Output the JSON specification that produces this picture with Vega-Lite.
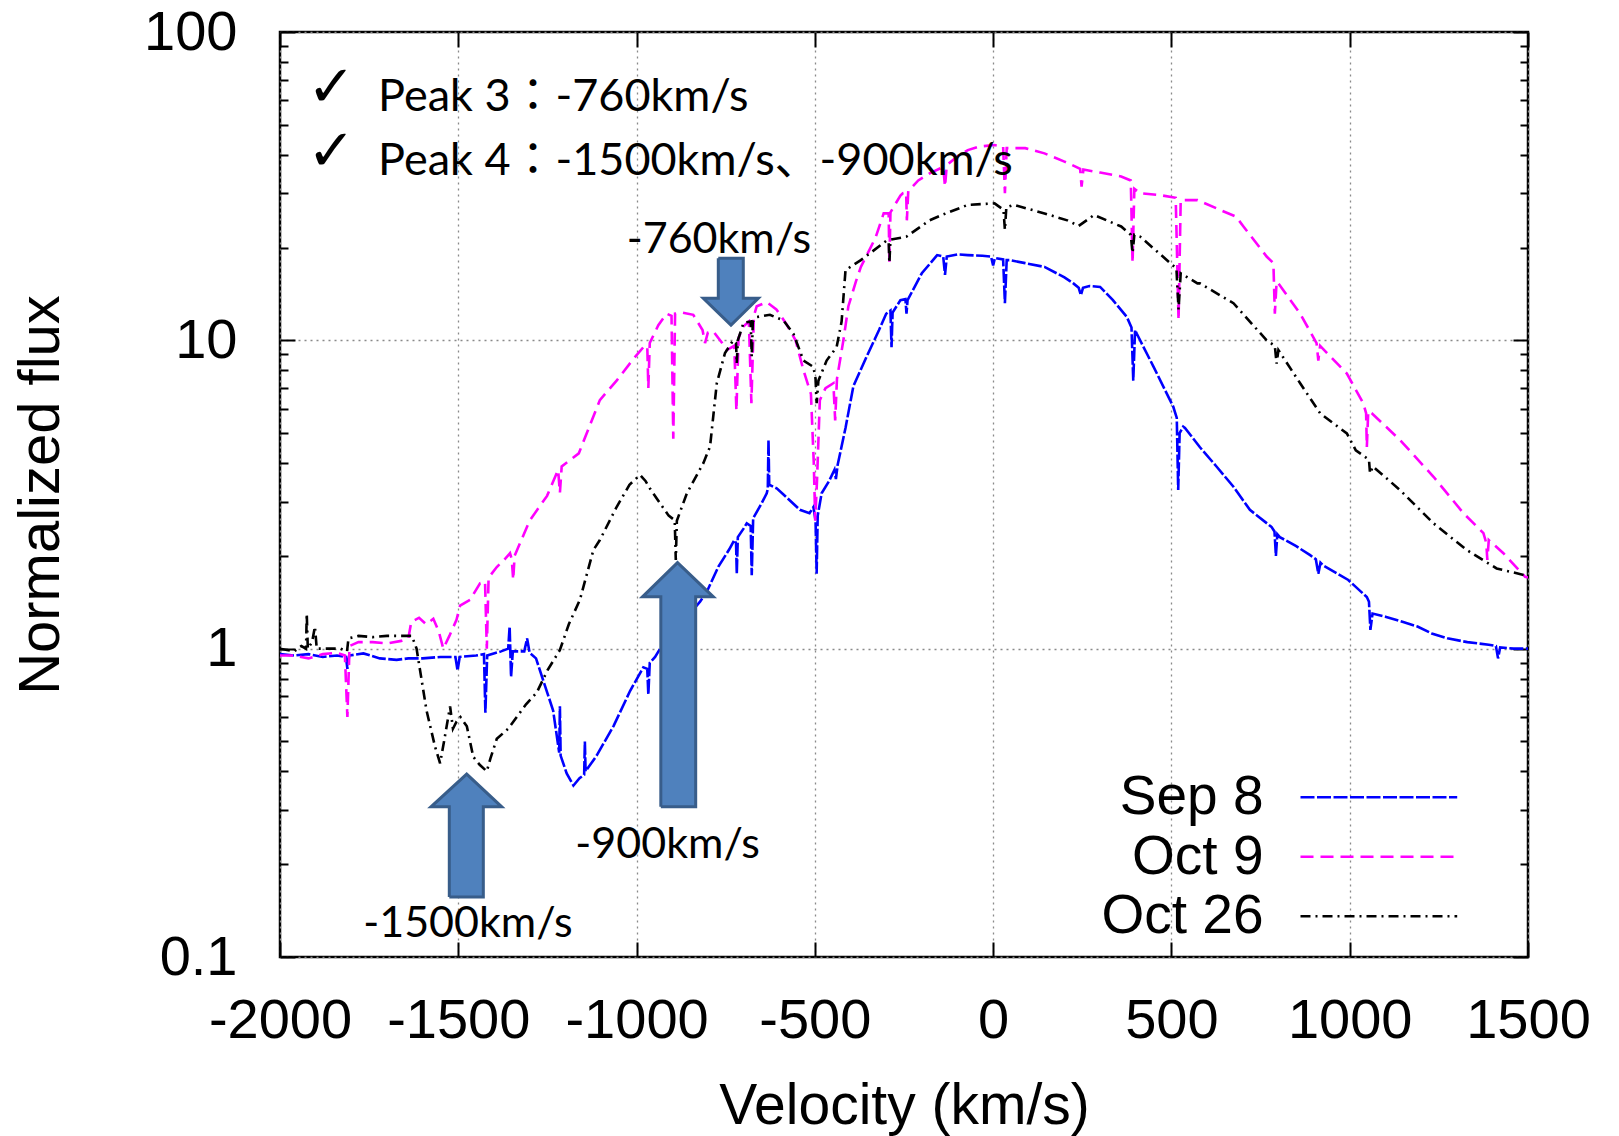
{
  "$schema": "https://vega.github.io/schema/vega-lite/v6.json",
  "width": 1248,
  "height": 925,
  "autosize": {"type": "none"},
  "padding": {"left": 280, "top": 32, "right": 91, "bottom": 179},
  "background": "white",
  "config": {"view": {"stroke": "black", "strokeWidth": 2.5}},
  "datasets": {
    "spectra": [
      {"s":"Sep 8","v":-2000,"f":0.96},{"s":"Sep 8","v":-1960,"f":0.95},{"s":"Sep 8","v":-1920,"f":0.96},{"s":"Sep 8","v":-1880,"f":0.94},{"s":"Sep 8","v":-1840,"f":0.95},{"s":"Sep 8","v":-1815,"f":0.94},{"s":"Sep 8","v":-1811,"f":0.86},{"s":"Sep 8","v":-1806,"f":0.95},{"s":"Sep 8","v":-1766,"f":0.965},{"s":"Sep 8","v":-1720,"f":0.93},{"s":"Sep 8","v":-1673,"f":0.92},{"s":"Sep 8","v":-1640,"f":0.93},{"s":"Sep 8","v":-1600,"f":0.93},{"s":"Sep 8","v":-1550,"f":0.94},{"s":"Sep 8","v":-1508,"f":0.94},{"s":"Sep 8","v":-1502,"f":0.85},{"s":"Sep 8","v":-1496,"f":0.94},{"s":"Sep 8","v":-1450,"f":0.95},{"s":"Sep 8","v":-1428,"f":0.96},{"s":"Sep 8","v":-1424,"f":0.62},{"s":"Sep 8","v":-1419,"f":0.95},{"s":"Sep 8","v":-1380,"f":0.98},{"s":"Sep 8","v":-1360,"f":1.0},{"s":"Sep 8","v":-1356,"f":1.18},{"s":"Sep 8","v":-1352,"f":0.81},{"s":"Sep 8","v":-1347,"f":0.98},{"s":"Sep 8","v":-1315,"f":0.98},{"s":"Sep 8","v":-1307,"f":1.08},{"s":"Sep 8","v":-1300,"f":0.97},{"s":"Sep 8","v":-1282,"f":0.93},{"s":"Sep 8","v":-1262,"f":0.79},{"s":"Sep 8","v":-1234,"f":0.63},{"s":"Sep 8","v":-1217,"f":0.46},{"s":"Sep 8","v":-1215,"f":0.65},{"s":"Sep 8","v":-1213,"f":0.45},{"s":"Sep 8","v":-1196,"f":0.394},{"s":"Sep 8","v":-1177,"f":0.36},{"s":"Sep 8","v":-1160,"f":0.38},{"s":"Sep 8","v":-1147,"f":0.39},{"s":"Sep 8","v":-1145,"f":0.5},{"s":"Sep 8","v":-1143,"f":0.4},{"s":"Sep 8","v":-1112,"f":0.45},{"s":"Sep 8","v":-1065,"f":0.56},{"s":"Sep 8","v":-1018,"f":0.73},{"s":"Sep 8","v":-981,"f":0.87},{"s":"Sep 8","v":-970,"f":0.86},{"s":"Sep 8","v":-967,"f":0.71},{"s":"Sep 8","v":-963,"f":0.9},{"s":"Sep 8","v":-948,"f":0.94},{"s":"Sep 8","v":-934,"f":1.0},{"s":"Sep 8","v":-900,"f":1.11},{"s":"Sep 8","v":-860,"f":1.26},{"s":"Sep 8","v":-822,"f":1.42},{"s":"Sep 8","v":-803,"f":1.53},{"s":"Sep 8","v":-770,"f":1.85},{"s":"Sep 8","v":-740,"f":2.1},{"s":"Sep 8","v":-726,"f":2.25},{"s":"Sep 8","v":-721,"f":2.2},{"s":"Sep 8","v":-719,"f":1.75},{"s":"Sep 8","v":-716,"f":2.3},{"s":"Sep 8","v":-700,"f":2.45},{"s":"Sep 8","v":-691,"f":2.55},{"s":"Sep 8","v":-680,"f":2.5},{"s":"Sep 8","v":-677,"f":1.73},{"s":"Sep 8","v":-673,"f":2.65},{"s":"Sep 8","v":-650,"f":2.95},{"s":"Sep 8","v":-635,"f":3.19},{"s":"Sep 8","v":-632,"f":3.3},{"s":"Sep 8","v":-630,"f":4.75},{"s":"Sep 8","v":-628,"f":3.4},{"s":"Sep 8","v":-607,"f":3.31},{"s":"Sep 8","v":-580,"f":3.1},{"s":"Sep 8","v":-542,"f":2.82},{"s":"Sep 8","v":-515,"f":2.75},{"s":"Sep 8","v":-504,"f":2.88},{"s":"Sep 8","v":-498,"f":2.6},{"s":"Sep 8","v":-495,"f":1.75},{"s":"Sep 8","v":-492,"f":2.7},{"s":"Sep 8","v":-481,"f":3.19},{"s":"Sep 8","v":-460,"f":3.5},{"s":"Sep 8","v":-445,"f":3.8},{"s":"Sep 8","v":-441,"f":3.55},{"s":"Sep 8","v":-436,"f":3.95},{"s":"Sep 8","v":-414,"f":5.2},{"s":"Sep 8","v":-392,"f":7.1},{"s":"Sep 8","v":-355,"f":8.85},{"s":"Sep 8","v":-320,"f":10.8},{"s":"Sep 8","v":-300,"f":12.2},{"s":"Sep 8","v":-288,"f":12.5},{"s":"Sep 8","v":-285,"f":9.5},{"s":"Sep 8","v":-282,"f":12.3},{"s":"Sep 8","v":-260,"f":13.5},{"s":"Sep 8","v":-246,"f":13.6},{"s":"Sep 8","v":-243,"f":12.2},{"s":"Sep 8","v":-240,"f":13.5},{"s":"Sep 8","v":-200,"f":16.5},{"s":"Sep 8","v":-157,"f":18.9},{"s":"Sep 8","v":-140,"f":18.7},{"s":"Sep 8","v":-135,"f":16.3},{"s":"Sep 8","v":-130,"f":18.7},{"s":"Sep 8","v":-100,"f":19.0},{"s":"Sep 8","v":-71,"f":18.9},{"s":"Sep 8","v":-30,"f":18.8},{"s":"Sep 8","v":-6,"f":18.7},{"s":"Sep 8","v":0,"f":17.5},{"s":"Sep 8","v":5,"f":18.5},{"s":"Sep 8","v":28,"f":18.3},{"s":"Sep 8","v":33,"f":13.2},{"s":"Sep 8","v":38,"f":18.2},{"s":"Sep 8","v":47,"f":18.2},{"s":"Sep 8","v":90,"f":17.8},{"s":"Sep 8","v":144,"f":17.3},{"s":"Sep 8","v":200,"f":16.0},{"s":"Sep 8","v":225,"f":15.3},{"s":"Sep 8","v":240,"f":14.8},{"s":"Sep 8","v":246,"f":14.0},{"s":"Sep 8","v":252,"f":14.8},{"s":"Sep 8","v":270,"f":15.0},{"s":"Sep 8","v":300,"f":14.9},{"s":"Sep 8","v":336,"f":13.5},{"s":"Sep 8","v":375,"f":11.9},{"s":"Sep 8","v":388,"f":11.0},{"s":"Sep 8","v":393,"f":7.4},{"s":"Sep 8","v":398,"f":10.8},{"s":"Sep 8","v":403,"f":10.5},{"s":"Sep 8","v":450,"f":8.2},{"s":"Sep 8","v":505,"f":6.1},{"s":"Sep 8","v":515,"f":5.6},{"s":"Sep 8","v":519,"f":3.27},{"s":"Sep 8","v":523,"f":5.0},{"s":"Sep 8","v":533,"f":5.25},{"s":"Sep 8","v":538,"f":5.2},{"s":"Sep 8","v":580,"f":4.5},{"s":"Sep 8","v":627,"f":3.89},{"s":"Sep 8","v":674,"f":3.35},{"s":"Sep 8","v":720,"f":2.82},{"s":"Sep 8","v":781,"f":2.48},{"s":"Sep 8","v":789,"f":2.4},{"s":"Sep 8","v":793,"f":2.0},{"s":"Sep 8","v":797,"f":2.35},{"s":"Sep 8","v":804,"f":2.3},{"s":"Sep 8","v":850,"f":2.15},{"s":"Sep 8","v":889,"f":2.01},{"s":"Sep 8","v":905,"f":1.95},{"s":"Sep 8","v":912,"f":1.75},{"s":"Sep 8","v":918,"f":1.9},{"s":"Sep 8","v":926,"f":1.86},{"s":"Sep 8","v":996,"f":1.67},{"s":"Sep 8","v":1048,"f":1.47},{"s":"Sep 8","v":1054,"f":1.42},{"s":"Sep 8","v":1058,"f":1.15},{"s":"Sep 8","v":1064,"f":1.3},{"s":"Sep 8","v":1100,"f":1.27},{"s":"Sep 8","v":1150,"f":1.22},{"s":"Sep 8","v":1190,"f":1.18},{"s":"Sep 8","v":1230,"f":1.12},{"s":"Sep 8","v":1274,"f":1.08},{"s":"Sep 8","v":1330,"f":1.05},{"s":"Sep 8","v":1390,"f":1.03},{"s":"Sep 8","v":1410,"f":1.02},{"s":"Sep 8","v":1416,"f":0.93},{"s":"Sep 8","v":1422,"f":1.01},{"s":"Sep 8","v":1460,"f":1.0},{"s":"Sep 8","v":1500,"f":1.0},
      {"s":"Oct 9","v":-2000,"f":0.95},{"s":"Oct 9","v":-1960,"f":0.95},{"s":"Oct 9","v":-1920,"f":0.93},{"s":"Oct 9","v":-1880,"f":0.96},{"s":"Oct 9","v":-1840,"f":0.97},{"s":"Oct 9","v":-1818,"f":0.95},{"s":"Oct 9","v":-1811,"f":0.6},{"s":"Oct 9","v":-1805,"f":1.02},{"s":"Oct 9","v":-1780,"f":1.05},{"s":"Oct 9","v":-1740,"f":1.05},{"s":"Oct 9","v":-1700,"f":1.04},{"s":"Oct 9","v":-1660,"f":1.06},{"s":"Oct 9","v":-1640,"f":1.08},{"s":"Oct 9","v":-1632,"f":1.22},{"s":"Oct 9","v":-1610,"f":1.26},{"s":"Oct 9","v":-1590,"f":1.2},{"s":"Oct 9","v":-1570,"f":1.25},{"s":"Oct 9","v":-1555,"f":1.14},{"s":"Oct 9","v":-1542,"f":1.0},{"s":"Oct 9","v":-1525,"f":1.1},{"s":"Oct 9","v":-1505,"f":1.24},{"s":"Oct 9","v":-1495,"f":1.38},{"s":"Oct 9","v":-1467,"f":1.44},{"s":"Oct 9","v":-1439,"f":1.63},{"s":"Oct 9","v":-1425,"f":1.65},{"s":"Oct 9","v":-1420,"f":1.0},{"s":"Oct 9","v":-1415,"f":1.7},{"s":"Oct 9","v":-1392,"f":1.84},{"s":"Oct 9","v":-1370,"f":1.95},{"s":"Oct 9","v":-1355,"f":2.04},{"s":"Oct 9","v":-1350,"f":1.95},{"s":"Oct 9","v":-1346,"f":1.67},{"s":"Oct 9","v":-1342,"f":2.0},{"s":"Oct 9","v":-1300,"f":2.6},{"s":"Oct 9","v":-1251,"f":3.13},{"s":"Oct 9","v":-1220,"f":3.8},{"s":"Oct 9","v":-1215,"f":3.2},{"s":"Oct 9","v":-1210,"f":3.9},{"s":"Oct 9","v":-1162,"f":4.3},{"s":"Oct 9","v":-1103,"f":6.4},{"s":"Oct 9","v":-1056,"f":7.4},{"s":"Oct 9","v":-1009,"f":8.7},{"s":"Oct 9","v":-981,"f":9.5},{"s":"Oct 9","v":-970,"f":9.6},{"s":"Oct 9","v":-967,"f":7.0},{"s":"Oct 9","v":-963,"f":9.8},{"s":"Oct 9","v":-939,"f":11.2},{"s":"Oct 9","v":-916,"f":12.2},{"s":"Oct 9","v":-902,"f":12.0},{"s":"Oct 9","v":-897,"f":4.8},{"s":"Oct 9","v":-892,"f":12.2},{"s":"Oct 9","v":-873,"f":12.3},{"s":"Oct 9","v":-841,"f":12.1},{"s":"Oct 9","v":-815,"f":10.8},{"s":"Oct 9","v":-808,"f":9.8},{"s":"Oct 9","v":-800,"f":10.6},{"s":"Oct 9","v":-785,"f":10.7},{"s":"Oct 9","v":-760,"f":9.8},{"s":"Oct 9","v":-747,"f":9.3},{"s":"Oct 9","v":-726,"f":9.6},{"s":"Oct 9","v":-720,"f":5.9},{"s":"Oct 9","v":-714,"f":10.2},{"s":"Oct 9","v":-700,"f":11.1},{"s":"Oct 9","v":-685,"f":11.5},{"s":"Oct 9","v":-678,"f":6.25},{"s":"Oct 9","v":-671,"f":12.0},{"s":"Oct 9","v":-663,"f":12.9},{"s":"Oct 9","v":-635,"f":13.3},{"s":"Oct 9","v":-608,"f":12.6},{"s":"Oct 9","v":-580,"f":11.3},{"s":"Oct 9","v":-554,"f":10.0},{"s":"Oct 9","v":-532,"f":8.0},{"s":"Oct 9","v":-511,"f":6.7},{"s":"Oct 9","v":-503,"f":4.0},{"s":"Oct 9","v":-499,"f":2.6},{"s":"Oct 9","v":-494,"f":3.5},{"s":"Oct 9","v":-486,"f":6.4},{"s":"Oct 9","v":-470,"f":7.0},{"s":"Oct 9","v":-448,"f":7.26},{"s":"Oct 9","v":-443,"f":5.5},{"s":"Oct 9","v":-438,"f":7.5},{"s":"Oct 9","v":-420,"f":10.0},{"s":"Oct 9","v":-406,"f":12.9},{"s":"Oct 9","v":-385,"f":15.5},{"s":"Oct 9","v":-371,"f":17.3},{"s":"Oct 9","v":-330,"f":21.5},{"s":"Oct 9","v":-307,"f":25.8},{"s":"Oct 9","v":-293,"f":25.8},{"s":"Oct 9","v":-291,"f":17.8},{"s":"Oct 9","v":-288,"f":26.0},{"s":"Oct 9","v":-260,"f":29.5},{"s":"Oct 9","v":-253,"f":30.0},{"s":"Oct 9","v":-244,"f":30.2},{"s":"Oct 9","v":-242,"f":24.5},{"s":"Oct 9","v":-238,"f":30.5},{"s":"Oct 9","v":-210,"f":33.0},{"s":"Oct 9","v":-178,"f":34.8},{"s":"Oct 9","v":-140,"f":36.5},{"s":"Oct 9","v":-135,"f":31.5},{"s":"Oct 9","v":-130,"f":37.0},{"s":"Oct 9","v":-100,"f":39.5},{"s":"Oct 9","v":-71,"f":41.4},{"s":"Oct 9","v":-40,"f":42.5},{"s":"Oct 9","v":4,"f":43.0},{"s":"Oct 9","v":28,"f":42.5},{"s":"Oct 9","v":33,"f":30.0},{"s":"Oct 9","v":38,"f":42.0},{"s":"Oct 9","v":90,"f":42.0},{"s":"Oct 9","v":144,"f":40.4},{"s":"Oct 9","v":200,"f":38.0},{"s":"Oct 9","v":244,"f":36.0},{"s":"Oct 9","v":248,"f":31.5},{"s":"Oct 9","v":253,"f":35.8},{"s":"Oct 9","v":300,"f":35.0},{"s":"Oct 9","v":359,"f":34.0},{"s":"Oct 9","v":386,"f":33.0},{"s":"Oct 9","v":391,"f":17.8},{"s":"Oct 9","v":396,"f":31.0},{"s":"Oct 9","v":412,"f":30.0},{"s":"Oct 9","v":466,"f":29.6},{"s":"Oct 9","v":512,"f":29.0},{"s":"Oct 9","v":520,"f":11.6},{"s":"Oct 9","v":526,"f":28.5},{"s":"Oct 9","v":573,"f":28.5},{"s":"Oct 9","v":636,"f":26.5},{"s":"Oct 9","v":681,"f":25.2},{"s":"Oct 9","v":702,"f":23.4},{"s":"Oct 9","v":767,"f":18.7},{"s":"Oct 9","v":786,"f":17.8},{"s":"Oct 9","v":790,"f":12.2},{"s":"Oct 9","v":795,"f":15.5},{"s":"Oct 9","v":800,"f":15.3},{"s":"Oct 9","v":861,"f":12.2},{"s":"Oct 9","v":907,"f":9.8},{"s":"Oct 9","v":912,"f":8.6},{"s":"Oct 9","v":917,"f":9.6},{"s":"Oct 9","v":992,"f":7.8},{"s":"Oct 9","v":1038,"f":6.25},{"s":"Oct 9","v":1046,"f":5.8},{"s":"Oct 9","v":1048,"f":4.5},{"s":"Oct 9","v":1052,"f":5.9},{"s":"Oct 9","v":1062,"f":5.8},{"s":"Oct 9","v":1141,"f":4.75},{"s":"Oct 9","v":1235,"f":3.61},{"s":"Oct 9","v":1319,"f":2.75},{"s":"Oct 9","v":1375,"f":2.37},{"s":"Oct 9","v":1383,"f":2.2},{"s":"Oct 9","v":1386,"f":1.94},{"s":"Oct 9","v":1390,"f":2.25},{"s":"Oct 9","v":1431,"f":2.04},{"s":"Oct 9","v":1492,"f":1.71},{"s":"Oct 9","v":1500,"f":1.7},
      {"s":"Oct 26","v":-2000,"f":1.0},{"s":"Oct 26","v":-1960,"f":0.98},{"s":"Oct 26","v":-1940,"f":1.02},{"s":"Oct 26","v":-1927,"f":1.0},{"s":"Oct 26","v":-1925,"f":1.3},{"s":"Oct 26","v":-1922,"f":1.0},{"s":"Oct 26","v":-1910,"f":1.05},{"s":"Oct 26","v":-1902,"f":1.18},{"s":"Oct 26","v":-1897,"f":1.0},{"s":"Oct 26","v":-1860,"f":1.0},{"s":"Oct 26","v":-1830,"f":1.0},{"s":"Oct 26","v":-1812,"f":0.98},{"s":"Oct 26","v":-1808,"f":1.08},{"s":"Oct 26","v":-1780,"f":1.1},{"s":"Oct 26","v":-1740,"f":1.09},{"s":"Oct 26","v":-1700,"f":1.1},{"s":"Oct 26","v":-1660,"f":1.1},{"s":"Oct 26","v":-1630,"f":1.1},{"s":"Oct 26","v":-1617,"f":1.0},{"s":"Oct 26","v":-1589,"f":0.63},{"s":"Oct 26","v":-1565,"f":0.48},{"s":"Oct 26","v":-1551,"f":0.425},{"s":"Oct 26","v":-1540,"f":0.5},{"s":"Oct 26","v":-1523,"f":0.65},{"s":"Oct 26","v":-1515,"f":0.55},{"s":"Oct 26","v":-1505,"f":0.58},{"s":"Oct 26","v":-1494,"f":0.6},{"s":"Oct 26","v":-1476,"f":0.56},{"s":"Oct 26","v":-1458,"f":0.446},{"s":"Oct 26","v":-1440,"f":0.42},{"s":"Oct 26","v":-1420,"f":0.4},{"s":"Oct 26","v":-1410,"f":0.44},{"s":"Oct 26","v":-1392,"f":0.51},{"s":"Oct 26","v":-1360,"f":0.55},{"s":"Oct 26","v":-1336,"f":0.6},{"s":"Oct 26","v":-1310,"f":0.66},{"s":"Oct 26","v":-1280,"f":0.72},{"s":"Oct 26","v":-1250,"f":0.85},{"s":"Oct 26","v":-1215,"f":0.99},{"s":"Oct 26","v":-1190,"f":1.2},{"s":"Oct 26","v":-1159,"f":1.44},{"s":"Oct 26","v":-1121,"f":2.09},{"s":"Oct 26","v":-1103,"f":2.25},{"s":"Oct 26","v":-1056,"f":2.88},{"s":"Oct 26","v":-1020,"f":3.4},{"s":"Oct 26","v":-990,"f":3.66},{"s":"Oct 26","v":-975,"f":3.5},{"s":"Oct 26","v":-962,"f":3.3},{"s":"Oct 26","v":-934,"f":2.96},{"s":"Oct 26","v":-910,"f":2.7},{"s":"Oct 26","v":-893,"f":2.61},{"s":"Oct 26","v":-890,"f":1.94},{"s":"Oct 26","v":-887,"f":2.6},{"s":"Oct 26","v":-859,"f":3.19},{"s":"Oct 26","v":-813,"f":3.99},{"s":"Oct 26","v":-794,"f":4.52},{"s":"Oct 26","v":-775,"f":7.26},{"s":"Oct 26","v":-752,"f":9.1},{"s":"Oct 26","v":-729,"f":10.0},{"s":"Oct 26","v":-721,"f":9.8},{"s":"Oct 26","v":-719,"f":8.4},{"s":"Oct 26","v":-716,"f":10.0},{"s":"Oct 26","v":-700,"f":11.4},{"s":"Oct 26","v":-680,"f":11.5},{"s":"Oct 26","v":-677,"f":8.85},{"s":"Oct 26","v":-674,"f":11.5},{"s":"Oct 26","v":-663,"f":11.9},{"s":"Oct 26","v":-626,"f":12.1},{"s":"Oct 26","v":-588,"f":11.6},{"s":"Oct 26","v":-560,"f":10.5},{"s":"Oct 26","v":-532,"f":8.6},{"s":"Oct 26","v":-504,"f":8.2},{"s":"Oct 26","v":-498,"f":7.5},{"s":"Oct 26","v":-495,"f":6.25},{"s":"Oct 26","v":-490,"f":7.4},{"s":"Oct 26","v":-467,"f":8.6},{"s":"Oct 26","v":-439,"f":9.5},{"s":"Oct 26","v":-425,"f":11.5},{"s":"Oct 26","v":-414,"f":16.9},{"s":"Oct 26","v":-371,"f":18.2},{"s":"Oct 26","v":-300,"f":21.0},{"s":"Oct 26","v":-293,"f":21.0},{"s":"Oct 26","v":-291,"f":17.8},{"s":"Oct 26","v":-288,"f":21.2},{"s":"Oct 26","v":-243,"f":21.7},{"s":"Oct 26","v":-178,"f":24.5},{"s":"Oct 26","v":-140,"f":25.6},{"s":"Oct 26","v":-71,"f":27.5},{"s":"Oct 26","v":4,"f":27.8},{"s":"Oct 26","v":29,"f":26.5},{"s":"Oct 26","v":33,"f":22.8},{"s":"Oct 26","v":37,"f":27.0},{"s":"Oct 26","v":58,"f":27.5},{"s":"Oct 26","v":144,"f":25.8},{"s":"Oct 26","v":208,"f":24.5},{"s":"Oct 26","v":240,"f":23.5},{"s":"Oct 26","v":283,"f":25.5},{"s":"Oct 26","v":359,"f":23.4},{"s":"Oct 26","v":386,"f":22.0},{"s":"Oct 26","v":391,"f":19.2},{"s":"Oct 26","v":396,"f":22.0},{"s":"Oct 26","v":412,"f":21.7},{"s":"Oct 26","v":514,"f":17.1},{"s":"Oct 26","v":520,"f":12.6},{"s":"Oct 26","v":526,"f":16.5},{"s":"Oct 26","v":573,"f":15.3},{"s":"Oct 26","v":580,"f":15.3},{"s":"Oct 26","v":674,"f":13.2},{"s":"Oct 26","v":767,"f":10.0},{"s":"Oct 26","v":790,"f":9.6},{"s":"Oct 26","v":795,"f":8.4},{"s":"Oct 26","v":800,"f":9.3},{"s":"Oct 26","v":861,"f":7.26},{"s":"Oct 26","v":917,"f":5.8},{"s":"Oct 26","v":992,"f":4.99},{"s":"Oct 26","v":1017,"f":4.4},{"s":"Oct 26","v":1054,"f":4.1},{"s":"Oct 26","v":1057,"f":3.7},{"s":"Oct 26","v":1065,"f":3.9},{"s":"Oct 26","v":1141,"f":3.27},{"s":"Oct 26","v":1235,"f":2.55},{"s":"Oct 26","v":1328,"f":2.09},{"s":"Oct 26","v":1412,"f":1.82},{"s":"Oct 26","v":1492,"f":1.73},{"s":"Oct 26","v":1500,"f":1.72}
    ],
    "arrows": [
      {"a":"A","i":1,"v":-770.8,"f":18.45},{"a":"A","i":2,"v":-700.7,"f":18.45},{"a":"A","i":3,"v":-700.7,"f":13.68},{"a":"A","i":4,"v":-658.6,"f":13.68},{"a":"A","i":5,"v":-735.2,"f":11.21},{"a":"A","i":6,"v":-812.9,"f":13.68},{"a":"A","i":7,"v":-770.8,"f":13.68},{"a":"A","i":8,"v":-770.8,"f":18.45},
      {"a":"B","i":1,"v":-932,"f":0.307},{"a":"B","i":2,"v":-932,"f":1.473},{"a":"B","i":3,"v":-983.4,"f":1.473},{"a":"B","i":4,"v":-885.2,"f":1.902},{"a":"B","i":5,"v":-784.8,"f":1.473},{"a":"B","i":6,"v":-834.2,"f":1.473},{"a":"B","i":7,"v":-834.2,"f":0.307},{"a":"B","i":8,"v":-932,"f":0.307},
      {"a":"C","i":1,"v":-1525.2,"f":0.1564},{"a":"C","i":2,"v":-1525.2,"f":0.307},{"a":"C","i":3,"v":-1576.5,"f":0.307},{"a":"C","i":4,"v":-1476.4,"f":0.392},{"a":"C","i":5,"v":-1378.2,"f":0.307},{"a":"C","i":6,"v":-1429.8,"f":0.307},{"a":"C","i":7,"v":-1429.8,"f":0.1564},{"a":"C","i":8,"v":-1525.2,"f":0.1564}
    ],
    "peaks": [
      {"t":"Peak 3：-760km/s","v":-1725,"f":55.6},
      {"t":"Peak 4：-1500km/s、-900km/s","v":-1725,"f":34.4}
    ],
    "checks": [
      {"t":"✓","v":-1924,"f":57.5},
      {"t":"✓","v":-1924,"f":35.6}
    ],
    "labels": [
      {"t":"-760km/s","v":-769,"f":19.2},
      {"t":"-900km/s","v":-913,"f":0.209},
      {"t":"-1500km/s","v":-1473,"f":0.1163}
    ],
    "anchor": [{"v":0,"f":1}]
  },
  "encoding": {
    "x": {"field":"v","type":"quantitative","scale":{"domain":[-2000,1500],"nice":false,"zero":false},"axis":null},
    "y": {"field":"f","type":"quantitative","scale":{"type":"log","domain":[0.1,100],"nice":false},"axis":null}
  },
  "layer": [
    {
      "data": {"name":"spectra"},
      "mark": {"type":"line","strokeWidth":2.6,"clip":true},
      "encoding": {
        "x": {"field":"v","type":"quantitative","scale":{"domain":[-2000,1500],"nice":false,"zero":false},
          "axis": {"orient":"bottom","values":[-2000,-1500,-1000,-500,0,500,1000,1500],"labelExpr":"datum.value + ''","labelFont":"Liberation Sans","labelFontSize":56,"labelColor":"black","labelPadding":51,"labelFlush":false,"labelOverlap":false,"labelBound":false,"tickSize":-15,"tickWidth":2,"tickColor":"black","domain":false,"grid":true,"gridColor":"#8a8a8a","gridDash":[2,4],"gridWidth":1.3,"title":"Velocity (km/s)","titleFont":"Liberation Sans","titleFontSize":57,"titleFontWeight":"normal","titleColor":"black","titlePadding":30}},
        "y": {"field":"f","type":"quantitative","scale":{"type":"log","domain":[0.1,100],"nice":false},
          "axis": {"orient":"left","values":[0.1,0.2,0.3,0.4,0.5,0.6,0.7,0.8,0.9,1,2,3,4,5,6,7,8,9,10,20,30,40,50,60,70,80,90,100],"labelExpr":"indexof([0.1,1,10,100], datum.value) >= 0 ? datum.value + '' : ''","labelFont":"Liberation Sans","labelFontSize":56,"labelColor":"black","labelPadding":58,"labelOverlap":false,"labelBound":false,"labelFlush":false,"tickSize":{"condition":{"test":"indexof([0.1,1,10,100], datum.value) >= 0","value":-15},"value":-8},"tickWidth":2,"tickColor":"black","domain":false,"grid":true,"gridOpacity":{"condition":{"test":"indexof([0.1,1,10,100], datum.value) >= 0","value":1},"value":0},"gridColor":"#8a8a8a","gridDash":[2,4],"gridWidth":1.3,"title":"Normalized flux","titleFont":"Liberation Sans","titleFontSize":58,"titleFontWeight":"normal","titleColor":"black","titlePadding":73}},
        "color": {"field":"s","type":"nominal","scale":{"domain":["Sep 8","Oct 9","Oct 26"],"range":["#0000ff","#ff00ff","#000000"]},
          "legend": {"orient":"none","legendX":950,"legendY":737.7,"title":null,"padding":0,"labelFont":"Liberation Sans","labelFontSize":55,"labelColor":"black","labelAlign":"right","labelOffset":-21.5,"labelLimit":400,"symbolType":"M4.3,0H19.97","symbolSize":400,"symbolStrokeWidth":2.4,"rowPadding":3.5}},
        "strokeDash": {"field":"s","type":"nominal","scale":{"domain":["Sep 8","Oct 9","Oct 26"],"range":[[14,2.5],[13,7],[10,5,2,5]]},
          "legend": {"orient":"none","legendX":950,"legendY":737.7,"title":null,"padding":0,"labelFont":"Liberation Sans","labelFontSize":55,"labelColor":"black","labelAlign":"right","labelOffset":-21.5,"labelLimit":400,"symbolType":"M4.3,0H19.97","symbolSize":400,"symbolStrokeWidth":2.4,"rowPadding":3.5}}
      }
    },
    {
      "data": {"name":"anchor"},
      "mark": {"type":"point","opacity":0},
      "encoding": {
        "x": {"field":"v","type":"quantitative","scale":{"domain":[-2000,1500],"nice":false,"zero":false},
          "axis": {"orient":"top","values":[-2000,-1500,-1000,-500,0,500,1000,1500],"labels":false,"tickSize":-15,"tickWidth":2,"tickColor":"black","domain":false,"grid":false,"title":null}},
        "y": {"field":"f","type":"quantitative","scale":{"type":"log","domain":[0.1,100],"nice":false},
          "axis": {"orient":"right","values":[0.1,0.2,0.3,0.4,0.5,0.6,0.7,0.8,0.9,1,2,3,4,5,6,7,8,9,10,20,30,40,50,60,70,80,90,100],"labels":false,"tickSize":{"condition":{"test":"indexof([0.1,1,10,100], datum.value) >= 0","value":-15},"value":-8},"tickWidth":2,"tickColor":"black","domain":false,"grid":false,"title":null}}
      }
    },
    {
      "data": {"name":"arrows"},
      "mark": {"type":"line","fill":"#4f81bd","stroke":"#385d8a","strokeWidth":3,"strokeJoin":"miter"},
      "encoding": {
        "detail": {"field":"a","type":"nominal"},
        "order": {"field":"i","type":"quantitative"}
      }
    },
    {
      "data": {"name":"peaks"},
      "mark": {"type":"text","font":"Lato, Noto Sans CJK JP","fontSize":45,"color":"black","align":"left","baseline":"alphabetic"},
      "encoding": {"text": {"field":"t","type":"nominal"}}
    },
    {
      "data": {"name":"labels"},
      "mark": {"type":"text","font":"Lato, Noto Sans CJK JP","fontSize":43,"color":"black","align":"center","baseline":"alphabetic"},
      "encoding": {"text": {"field":"t","type":"nominal"}}
    },
    {
      "data": {"name":"checks"},
      "mark": {"type":"text","font":"DejaVu Sans","fontSize":58,"fontWeight":"bold","color":"black","align":"left","baseline":"alphabetic"},
      "encoding": {"text": {"field":"t","type":"nominal"}}
    }
  ],
  "resolve": {"axis": {"x":"independent","y":"independent"}}
}
